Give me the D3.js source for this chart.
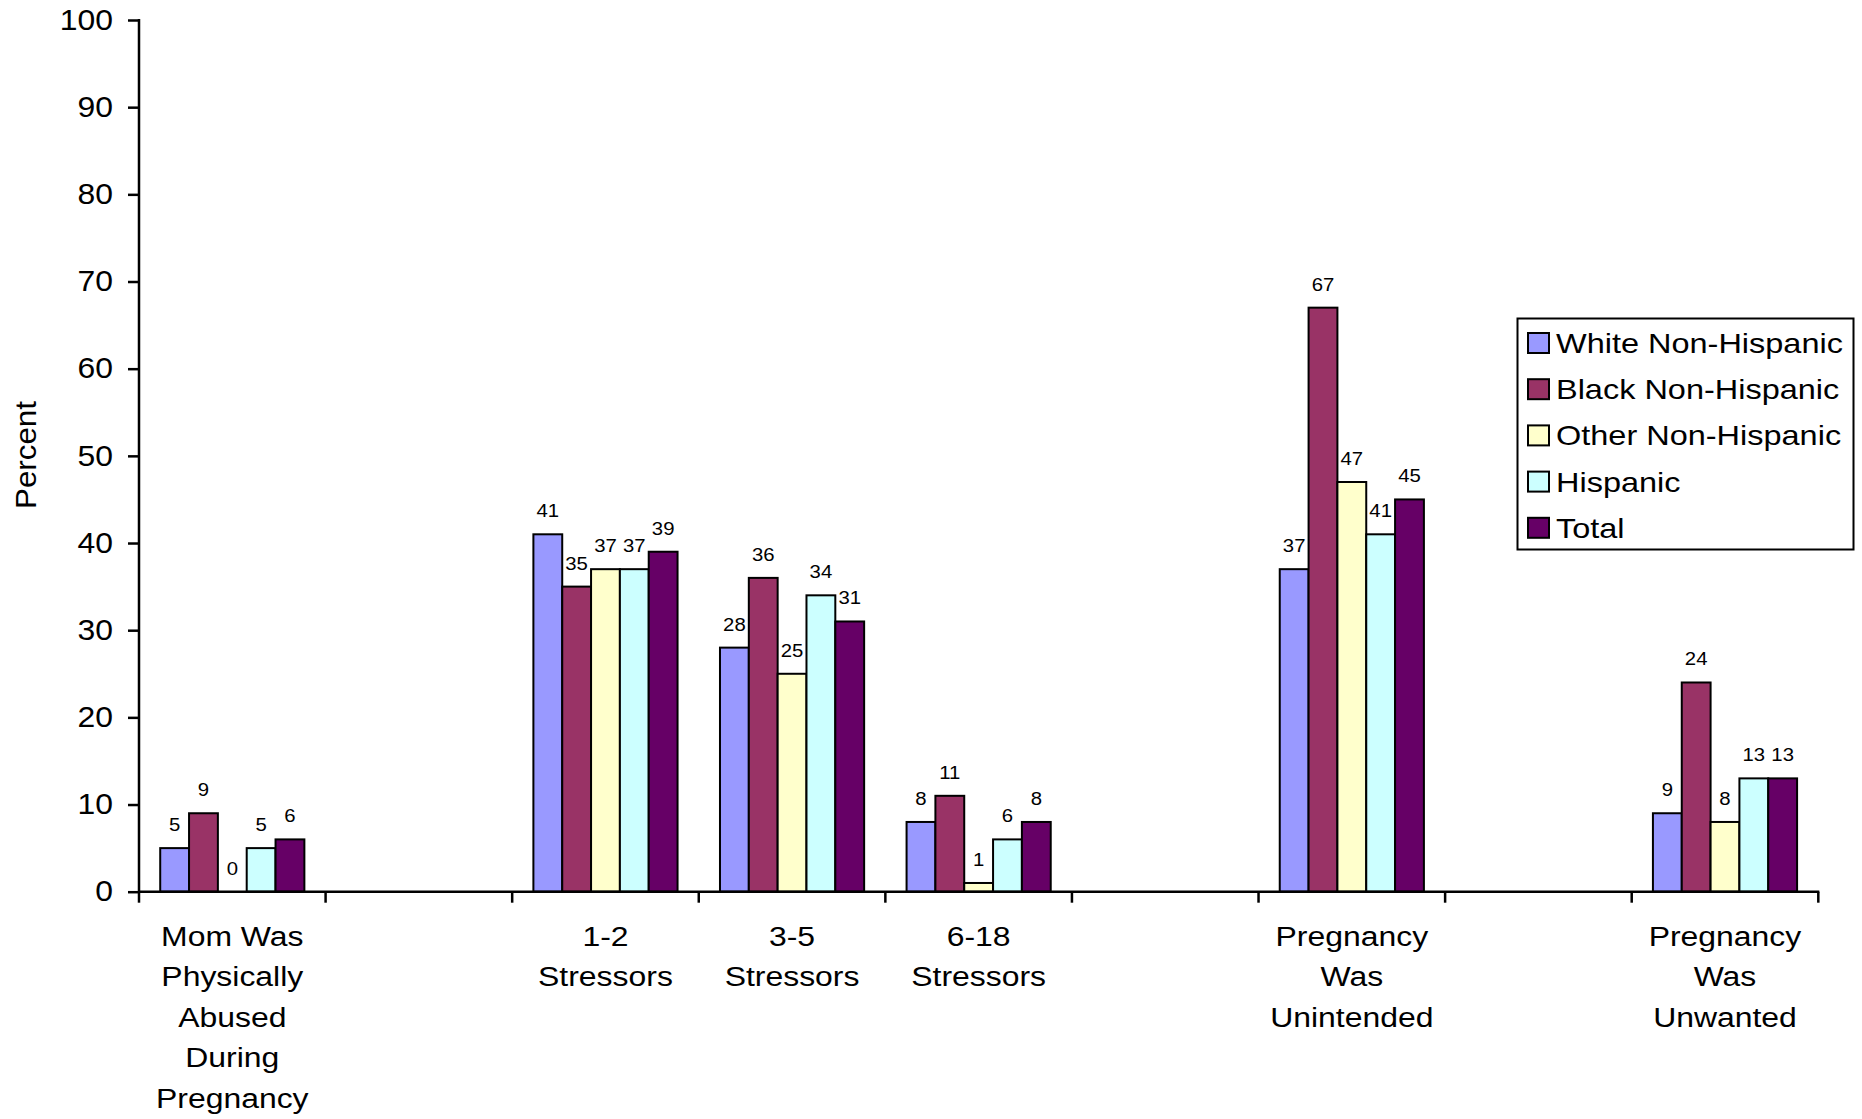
<!DOCTYPE html>
<html><head><meta charset="utf-8">
<script src="https://cdn.jsdelivr.net/npm/d3@7"></script>
<style>
body{margin:0;background:#fff;}
svg{display:block;font-family:"Liberation Sans",Arial,sans-serif;}
</style></head>
<body>
<svg id="chart" width="1862" height="1119"></svg>
<script>
const categories = [
  ["Mom Was","Physically","Abused","During","Pregnancy"],
  [],
  ["1-2","Stressors"],
  ["3-5","Stressors"],
  ["6-18","Stressors"],
  [],
  ["Pregnancy","Was","Unintended"],
  [],
  ["Pregnancy","Was","Unwanted"]
];
const seriesNames = ["White Non-Hispanic","Black Non-Hispanic","Other Non-Hispanic","Hispanic","Total"];
const seriesColors = ["#9999FF","#993366","#FFFFCC","#CCFFFF","#660066"];
const whiteNH   = [5, null, 41, 28, 8, null, 37, null, 9];
const blackNH   = [9, null, 35, 36, 11, null, 67, null, 24];
const otherNH   = [0, null, 37, 25, 1, null, 47, null, 8];
const hispanic  = [5, null, 37, 34, 6, null, 41, null, 13];
const total     = [6, null, 39, 31, 8, null, 45, null, 13];
const yTicks = [0,10,20,30,40,50,60,70,80,90,100];

(function(){
const seriesValues = [whiteNH, blackNH, otherNH, hispanic, total];
const svg = d3.select("#chart");

function stretch(sel, sx, ax){
  sel.each(function(){
    const el = d3.select(this);
    const x = ax !== undefined ? ax : +el.attr("x") || 0;
    const prev = el.attr("transform") || "";
    el.attr("transform", `${prev} translate(${x},0) scale(${sx},1) translate(${-x},0)`);
  });
}

const pLeft = 139, pRight = 1818.3, pTop = 20, pBottom = 891.7;
const x0 = d3.scaleBand().domain(d3.range(categories.length)).range([pLeft, pRight]).padding(0);
const step = x0.step();
const x1 = d3.scaleBand().domain(d3.range(seriesNames.length)).range([step*0.1137, step*0.8863]).padding(0);
const y = d3.scaleLinear().domain([0,100]).range([pBottom, pTop]);

const data = [];
categories.forEach((c,ci)=>{
  seriesValues.forEach((arr,si)=>{
    if(arr[ci]!==null) data.push({ci, si, v: arr[ci]});
  });
});
const g = svg.append("g");
g.selectAll("rect.bar").data(data.filter(d=>d.v>0)).join("rect")
  .attr("class","bar")
  .attr("x", d=>x0(d.ci)+x1(d.si))
  .attr("y", d=>y(d.v))
  .attr("width", x1.bandwidth())
  .attr("height", d=>y(0)-y(d.v))
  .attr("fill", d=>seriesColors[d.si])
  .attr("stroke","#000").attr("stroke-width",2);

const lbls = g.selectAll("text.lbl").data(data).join("text")
  .attr("class","lbl")
  .attr("x", d=>x0(d.ci)+x1(d.si)+x1.bandwidth()/2)
  .attr("y", d=>y(d.v)-17)
  .attr("text-anchor","middle")
  .attr("font-size",18)
  .attr("fill","#000")
  .text(d=>d.v);
stretch(lbls, 1.13);

const yAxis = d3.axisLeft(y).tickValues(yTicks).tickSize(11).tickPadding(15).tickSizeOuter(0);
const ya = svg.append("g").attr("transform",`translate(${pLeft},0)`).call(yAxis);
ya.select(".domain").attr("stroke","#000").attr("stroke-width",2.5).attr("d",`M0,${pTop-1}V${pBottom+1}`);
ya.selectAll(".tick line").attr("stroke","#000").attr("stroke-width",2.5);
const yt = ya.selectAll(".tick text").attr("font-size",29).attr("font-family","Liberation Sans, Arial, sans-serif").attr("fill","#000");
stretch(yt, 1.1);

const xa = svg.append("g");
xa.append("line").attr("x1",pLeft-1).attr("x2",pRight+1).attr("y1",pBottom).attr("y2",pBottom)
  .attr("stroke","#000").attr("stroke-width",2.5);
const bounds = d3.range(categories.length).map(i=>x0(i)).concat([x0(categories.length-1)+step]);
xa.selectAll("line.xt").data(bounds).join("line").attr("class","xt")
  .attr("x1",d=>d).attr("x2",d=>d).attr("y1",pBottom).attr("y2",pBottom+11)
  .attr("stroke","#000").attr("stroke-width",2.5);
categories.forEach((lines,ci)=>{
  const cx = x0(ci)+step/2;
  const t = xa.append("text").attr("text-anchor","middle").attr("font-size",28).attr("fill","#000");
  lines.forEach((ln,li)=>{
    t.append("tspan").attr("x", cx).attr("y", 946 + li*40.4).text(ln);
  });
  stretch(t, 1.14, cx);
});

const pt = svg.append("text").attr("transform","translate(36,455) rotate(-90) scale(1.08,1)")
  .attr("text-anchor","middle").attr("font-size",29).attr("fill","#000").text("Percent");

const lg = svg.append("g");
lg.append("rect").attr("x",1517.5).attr("y",318.5).attr("width",336).attr("height",231)
  .attr("fill","#fff").attr("stroke","#000").attr("stroke-width",2);
seriesNames.forEach((n,i)=>{
  const cy = 343 + i*46.2;
  lg.append("rect").attr("x",1528).attr("y",cy-10).attr("width",21).attr("height",20)
    .attr("fill",seriesColors[i]).attr("stroke","#000").attr("stroke-width",2);
  const lt = lg.append("text").attr("x",1556).attr("y",cy+10).attr("font-size",28).attr("fill","#000").text(n);
  stretch(lt, 1.16, 1556);
});
})();
</script>
</body></html>
